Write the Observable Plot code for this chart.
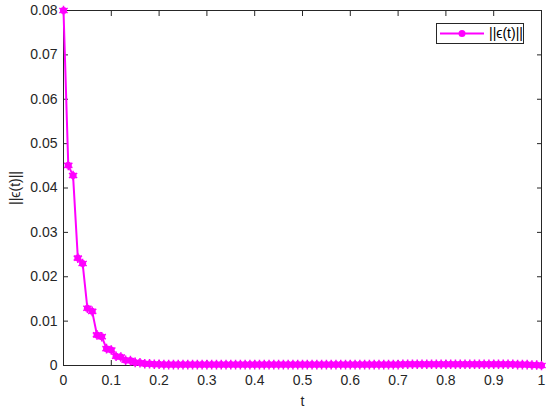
<!DOCTYPE html>
<html>
<head>
<meta charset="utf-8">
<script src="https://cdn.jsdelivr.net/npm/d3@7"></script>
<script src="https://cdn.jsdelivr.net/npm/@observablehq/plot@0.6"></script>
<style>
  html, body { margin: 0; padding: 0; background: #fff; }
  #wrap { position: relative; width: 550px; height: 412px; font-family: "Liberation Sans", Arial, sans-serif; }
  #legend { position: absolute; left: 436px; top: 23px; width: 88px; height: 21px; border: 1px solid #262626; background: #fff; box-sizing: border-box; }
  #legend svg { position: absolute; left: 0; top: 0; }
  #legend span { position: absolute; left: 52px; top: 1px; font-size: 14px; color: #000; white-space: nowrap; }
</style>
</head>
<body>
<div id="wrap">
  <div id="chart"></div>
  <div id="legend">
    <svg width="50" height="20"><line x1="3" y1="9.5" x2="47" y2="9.5" stroke="#ff00ff" stroke-width="2"/><circle cx="25" cy="9.5" r="3.5" fill="#ff00ff"/></svg>
    <span>||ϵ(t)||</span>
  </div>
</div>
<script>
const tValues = [
  0.00, 0.01, 0.02, 0.03, 0.04, 0.05, 0.06, 0.07, 0.08, 0.09,
  0.10, 0.11, 0.12, 0.13, 0.14, 0.15, 0.16, 0.17, 0.18, 0.19,
  0.20, 0.21, 0.22, 0.23, 0.24, 0.25, 0.26, 0.27, 0.28, 0.29,
  0.30, 0.31, 0.32, 0.33, 0.34, 0.35, 0.36, 0.37, 0.38, 0.39,
  0.40, 0.41, 0.42, 0.43, 0.44, 0.45, 0.46, 0.47, 0.48, 0.49,
  0.50, 0.51, 0.52, 0.53, 0.54, 0.55, 0.56, 0.57, 0.58, 0.59,
  0.60, 0.61, 0.62, 0.63, 0.64, 0.65, 0.66, 0.67, 0.68, 0.69,
  0.70, 0.71, 0.72, 0.73, 0.74, 0.75, 0.76, 0.77, 0.78, 0.79,
  0.80, 0.81, 0.82, 0.83, 0.84, 0.85, 0.86, 0.87, 0.88, 0.89,
  0.90, 0.91, 0.92, 0.93, 0.94, 0.95, 0.96, 0.97, 0.98, 0.99,
  1.00
];
const errValues = [
  0.0800, 0.0451, 0.0428, 0.0242, 0.0230, 0.0129, 0.0122, 0.0069, 0.0065, 0.0038,
  0.0035, 0.0021, 0.0019, 0.0012, 0.0011, 0.0007, 0.0006, 0.0004, 0.0004, 0.0003,
  0.0003, 0.0002, 0.0002, 0.0002, 0.0002, 0.0002, 0.0002, 0.0002, 0.0002, 0.0002,
  0.0002, 0.0002, 0.0002, 0.0002, 0.0002, 0.0002, 0.0002, 0.0002, 0.0002, 0.0002,
  0.0002, 0.0002, 0.0002, 0.0002, 0.0002, 0.0002, 0.0002, 0.0002, 0.0002, 0.0002,
  0.0002, 0.0002, 0.0002, 0.0002, 0.0002, 0.0002, 0.0002, 0.0002, 0.0002, 0.0002,
  0.0002, 0.0002, 0.0002, 0.0002, 0.0002, 0.0002, 0.0002, 0.0002, 0.0002, 0.0002,
  0.0002, 0.0003, 0.0003, 0.0003, 0.0003, 0.0003, 0.0003, 0.0003, 0.0003, 0.0003,
  0.0003, 0.0003, 0.0003, 0.0003, 0.0003, 0.0003, 0.0003, 0.0003, 0.0003, 0.0003,
  0.0003, 0.0003, 0.0003, 0.0003, 0.0003, 0.0002, 0.0002, 0.0002, 0.0001, 0.0001,
  0.0000
];
const xTicks = [0, 0.1, 0.2, 0.3, 0.4, 0.5, 0.6, 0.7, 0.8, 0.9, 1];
const yTicks = [0, 0.01, 0.02, 0.03, 0.04, 0.05, 0.06, 0.07, 0.08];
const xLabel = "t";
const yLabel = "||ϵ(t)||";

const data = tValues.map((t, i) => ({t, e: errValues[i]}));
const axisColor = "#262626";
const magenta = "#ff00ff";
const xFmt = d => String(+d.toFixed(1));
const yFmt = d => d === 0 ? "0" : d.toFixed(2);

const chart = Plot.plot({
  width: 550,
  height: 412,
  marginLeft: 63,
  marginRight: 9,
  marginTop: 10,
  marginBottom: 47,
  style: {fontFamily: "'Liberation Sans', Arial, sans-serif", fontSize: "14px", color: axisColor, background: "#fff"},
  x: {domain: [0, 1]},
  y: {domain: [0, 0.08]},
  marks: [
    Plot.frame({stroke: axisColor, strokeWidth: 1}),
    Plot.axisX({anchor: "bottom", ticks: xTicks, tickSize: 0, tickPadding: 10, tickFormat: xFmt, fill: axisColor, label: xLabel, labelAnchor: "center", labelArrow: "none", labelOffset: 40}),
    Plot.axisX({anchor: "bottom", ticks: xTicks, tickSize: -5, tickFormat: () => "", stroke: axisColor, label: null}),
    Plot.axisX({anchor: "top", ticks: xTicks, tickSize: -5, tickFormat: () => "", stroke: axisColor, label: null}),
    Plot.axisY({anchor: "left", ticks: yTicks, tickSize: 0, tickPadding: 6, tickFormat: yFmt, fill: axisColor, label: yLabel, labelAnchor: "center", labelArrow: "none", labelOffset: 53}),
    Plot.axisY({anchor: "left", ticks: yTicks, tickSize: -5, tickFormat: () => "", stroke: axisColor, label: null}),
    Plot.axisY({anchor: "right", ticks: yTicks, tickSize: -5, tickFormat: () => "", stroke: axisColor, label: null}),
    Plot.line(data, {x: "t", y: "e", stroke: magenta, strokeWidth: 2}),
    Plot.dot(data, {x: "t", y: "e", r: 3.5, fill: magenta, stroke: null}),
    Plot.dot(data, {x: "t", y: "e", symbol: "asterisk", r: 4.5, stroke: magenta, strokeWidth: 1.5})
  ]
});
document.getElementById("chart").appendChild(chart);
</script>
</body>
</html>
